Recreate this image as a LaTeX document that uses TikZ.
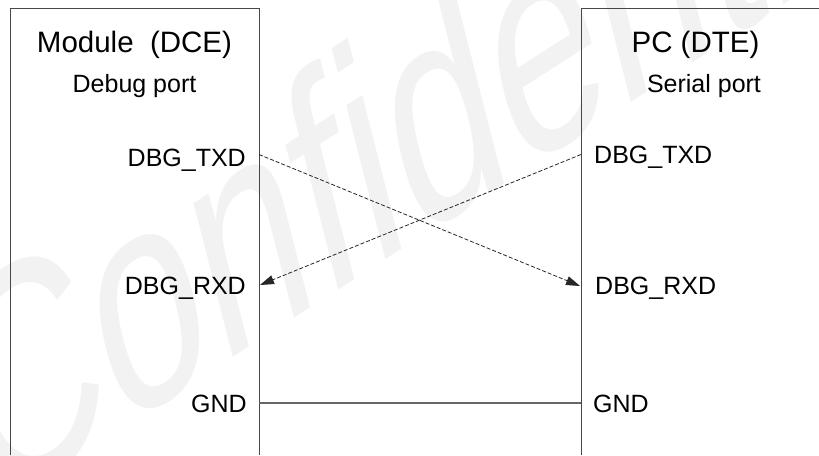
\documentclass[tikz,border=0pt]{standalone}
\usepackage{fontspec}
\setmainfont{Liberation Sans}
\usetikzlibrary{arrows.meta}
\begin{document}
\begin{tikzpicture}[x=1pt,y=-1pt,
  frame/.style={draw=black!72, line width=1pt},
  pin/.style={font=\fontsize{25}{25}\selectfont, inner sep=0pt},
  title/.style={font=\fontsize{29.5}{30}\selectfont, inner sep=0pt, anchor=base},
  subtitle/.style={font=\fontsize{25}{25}\selectfont, inner sep=0pt, anchor=base},
  signal/.style={draw=black!85, line width=0.8pt, dash pattern=on 4pt off 2pt,
                 -{Triangle[length=14pt,width=9pt]}},
  ground/.style={draw=black!60, line width=1.2pt},
  stamp/.style={font=\fontsize{314}{314}\selectfont, text=black!5, inner sep=0pt,
                anchor=base west, xscale=0.63, rotate=22}]
\useasboundingbox (0,0) rectangle (819,455);
\begin{scope}
  \clip (0,0) rectangle (819,455);
  % background stamp
  \node[stamp] (wm) at (-14,516) {Confidential};
\end{scope}

% the two units (open at the page edges)
\draw[frame] (10,455) -- (10,8) -- (259,8) -- (259,455);
\draw[frame] (819,8) -- (581,8) -- (581,455);

% headings
\node[title] (mod) at (134.5,52.5) {Module\ \ (DCE)};
\node[subtitle] (dbg) at (134.5,92.5) {Debug port};
\node[title] (pc) at (695.5,52.5) {PC (DTE)};
\node[subtitle] (ser) at (704,92.5) {Serial port};

% pin labels
\node[pin, anchor=base east] (mtxd) at (246,166) {DBG\_TXD};
\node[pin, anchor=base east] (mrxd) at (246,294) {DBG\_RXD};
\node[pin, anchor=base east] (mgnd) at (247,412) {GND};
\node[pin, anchor=base west] (ptxd) at (594,163) {DBG\_TXD};
\node[pin, anchor=base west] (prxd) at (595,294) {DBG\_RXD};
\node[pin, anchor=base west] (pgnd) at (593,412) {GND};

% pin points on the unit edges
\coordinate (mtxdE) at (259,154.5);
\coordinate (mrxdE) at (260,285);
\coordinate (mgndE) at (259,403);
\coordinate (ptxdW) at (581,154.5);
\coordinate (prxdW) at (580,286);
\coordinate (pgndW) at (581,403);

% wiring
\draw[signal] (mtxdE) -- (prxdW);
\draw[signal] (ptxdW) -- (mrxdE);
\draw[ground] (mgndE) -- (pgndW);
\end{tikzpicture}
\end{document}
